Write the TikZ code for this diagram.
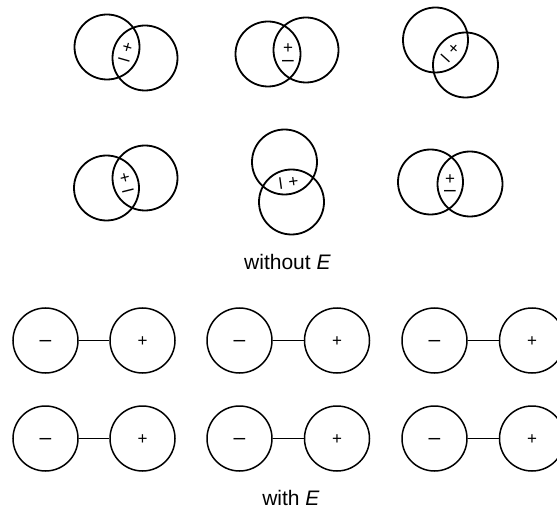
\documentclass[tikz,border=0pt]{standalone}
\usepackage{fontspec}
\setmainfont{Liberation Sans}

\begin{document}
\begin{tikzpicture}[x=1pt,y=1pt,
	blob/.style={circle,draw,line width=1.8pt,minimum size=65pt,inner sep=0pt},
	ion/.style={circle,draw,line width=1.5pt,minimum size=65pt,inner sep=0pt},
	cation/.style={ion,font=\fontsize{17}{17}\selectfont,text height=12pt,text depth=0pt},
	anion/.style={ion,font=\fontsize{21}{21}\selectfont,text height=11.3pt,text depth=0pt},
	dipole/.style={inner sep=0pt,align=center,font=\fontsize{17}{12.3}\selectfont},
	caption/.style={inner sep=0pt,font=\fontsize{21}{25}\selectfont}]
	\clip (0,0) rectangle (557,515);
	%
	% without E: overlapping pairs
	\node[blob] (a1) at (107,468) {};
	\node[blob] (b1) at (145,457) {};
	\node[dipole,rotate=-16] (d1) at (125.5,460.5) {+\\{\fontsize{21}{12.3}\selectfont –}};
	\node[blob] (a2) at (268,461) {};
	\node[blob] (b2) at (306,465) {};
	\node[dipole] (d2) at (288,460) {+\\{\fontsize{21}{12.3}\selectfont –}};
	\node[blob] (a3) at (435.5,475) {};
	\node[blob] (b3) at (465.5,450) {};
	\node[dipole,rotate=-42] (d3) at (449,461) {+\\{\fontsize{21}{12.3}\selectfont –}};
	\node[blob] (a4) at (106.5,327) {};
	\node[blob] (b4) at (145,337) {};
	\node[dipole,rotate=14] (d4) at (126.5,330) {+\\{\fontsize{21}{12.3}\selectfont –}};
	\node[blob] (a5) at (284.5,353) {};
	\node[blob] (b5) at (291.5,313) {};
	\node[dipole,rotate=-82] (d5) at (286.5,332.5) {+\\{\fontsize{21}{12.3}\selectfont –}};
	\node[blob] (a6) at (430.5,333) {};
	\node[blob] (b6) at (470,331) {};
	\node[dipole] (d6) at (450,329.5) {+\\{\fontsize{21}{12.3}\selectfont –}};
	\node[caption] (woE) at (287.5,253.5) {without \textit{E}};
	%
	% with E: separated pairs
	\node[anion] (n1) at (45.5,174.5) {–};
	\node[cation] (q1) at (142.5,174.5) {+};
	\node[anion] (n2) at (239.5,174.5) {–};
	\node[cation] (q2) at (337,174.5) {+};
	\node[anion] (n3) at (434.5,174.5) {–};
	\node[cation] (q3) at (532,174.5) {+};
	\node[anion] (n4) at (45.5,76.5) {–};
	\node[cation] (q4) at (142.5,76.5) {+};
	\node[anion] (n5) at (239.5,76.5) {–};
	\node[cation] (q5) at (337,76.5) {+};
	\node[anion] (n6) at (434.5,76.5) {–};
	\node[cation] (q6) at (532,76.5) {+};
	\node[caption] (wE) at (291,17.5) {with \textit{E}};
	%
	\draw [line width=1.5pt] (n1) -- (q1);
	\draw [line width=1.5pt] (n2) -- (q2);
	\draw [line width=1.5pt] (n3) -- (q3);
	\draw [line width=1.5pt] (n4) -- (q4);
	\draw [line width=1.5pt] (n5) -- (q5);
	\draw [line width=1.5pt] (n6) -- (q6);
\end{tikzpicture}
\end{document}
